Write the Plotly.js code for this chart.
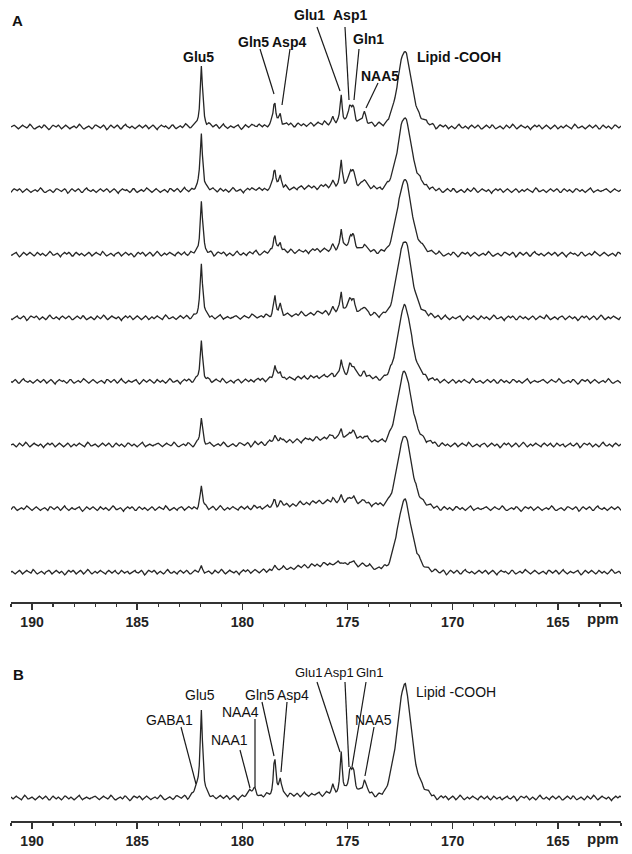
<!DOCTYPE html>
<html><head><meta charset="utf-8">
<script src="https://cdn.plot.ly/plotly-3.0.1.min.js"></script>
<style>html,body{margin:0;padding:0;background:#fff}#chart{width:632px;height:854px}</style>
</head><body><div id="chart"></div>
<script>
// ---------- DATA ----------
const ppmStart = 191, ppmEnd = 162, ppmStep = 0.05;
const peakNames = ['GABA1','Glu5','NAA1','NAA4','Gln5','Asp4','minor175.7','Glu1','Asp1','Gln1','NAA5','Lipid shoulder','Lipid -COOH','Lipid tail','Macromolecule hump'];
const peakPpm   = [182.2, 181.95, 179.65, 179.4, 178.47, 178.2, 175.7, 175.3, 174.88, 174.72, 174.2, 172.85, 172.3, 171.7, 175.6];
const peakWidth = [0.08, 0.07, 0.08, 0.08, 0.07, 0.07, 0.06, 0.06, 0.09, 0.09, 0.1, 0.25, 0.3, 0.4, 1.8];
const peakShape = ['L','L','L','L','L','L','L','L','L','L','L','G','G','G','G'];

// peak intensities per spectrum, same order as peakNames
const spectrumA1 = [0, 61, 0, 2, 25, 11, 6, 27, 16, 14, 11, 6, 71, 9, 3];
const spectrumA2 = [0, 58, 0, 2, 22, 12, 4, 24, 14, 12, 8, 6, 68, 9, 4];
const spectrumA3 = [0, 53, 0, 2, 19, 10, 4, 21, 13, 11, 7, 6, 70, 9, 4];
const spectrumA4 = [0, 55, 0, 2, 20, 10, 4, 21, 13, 11, 7, 6, 72, 9, 5];
const spectrumA5 = [0, 40, 0, 2, 15, 8, 3, 16, 11, 9, 6, 6, 71, 9, 5];
const spectrumA6 = [0, 26, 0, 1, 8, 5, 3, 9, 6, 5, 4, 6, 68, 9, 7];
const spectrumA7 = [0, 21, 0, 1, 6, 4, 2, 6, 4, 3, 3, 6, 68, 9, 7];
const spectrumA8 = [0, 5, 0, 0, 3, 2, 1, 3, 2, 2, 2, 6, 67, 9, 8];
const spectrumB  = [9, 89, 9, 9, 38, 18, 7, 40, 22, 18, 15, 16, 106, 14, 4];

const baselineNoise = [
0,1,2,2,1,0,-1,-2,-1,0,1,2,1,0,-1,-1,0,1,3,2,
0,-1,-2,-2,-1,0,1,1,0,-1,0,2,2,1,-1,-2,-3,-2,0,1,
2,1,0,0,1,2,1,-1,-2,-1,0,1,2,1,0,-1,-2,-1,0,1,
1,0,-1,0,2,3,2,0,-1,-2,-2,-1,0,1,1,0,-1,-2,-1,1,
2,2,1,0,-1,-1,0,1,2,1,-1,-3,-2,0,1,2,1,0,-1,0,
1,2,1,-1,-2,-2,0,1,2,3,1,0,-1,-1,0,1,0,-1,-2,-1,
0,1,2,1,0,-1,0,1,2,1,-1,-2,-1,0,2,2,1,0,-2,-3,
-1,0,1,2,1,0,0,1,0,-1,-2,-1,1,2,2,0,-1,-2,-1,0,
1,1,0,-1,0,2,3,2,1,-1,-2,-2,-1,0,1,2,1,0,-1,-2,
-1,0,1,1,0,-1,-2,0,2,2,1,0,-1,0,1,2,1,-1,-2,-1,
0,2,3,1,0,-1,-2,-1,0,1,0,-1,-1,0,1,2,2,0,-1,-3,
-2,-1,1,2,1,0,-1,0,1,2,1,0,-2,-2,-1,1,2,1,0,-1,
0,1,0,-1,-2,-1,0,2,3,2,0,-1,-1,0,1,1,0,-2,-3,-1,
0,1,2,1,0,1,2,1,-1,-2,-2,0,1,2,1,0,-1,0,1,0,
-1,-2,-1,0,2,2,1,-1,-2,-1,0,1,2,1,0,-1,-1,1,3,2,
0,-1,-2,-1,0,1,1,0,-1,-2,0,1,2,2,1,-1,-2,-1,0,1,
2,1,0,-1,0,1,0,-1,-3,-2,0,1,2,1,0,1,2,1,-1,-2,
-1,0,1,2,1,-1,-2,-1,0,2,3,2,0,-1,-2,-1,0,1,0,-1,
0,1,2,1,0,-1,-2,-2,0,1,2,1,0,-1,0,1,2,0,-1,-2,
-1,1,2,1,0,-1,0,1,1,-1,-2,-1,0,1,2,2,0,-1,-1,0,
1,2,1,-1,-3,-2,0,1,2,1,0,0,1,2,1,-1,-2,-1,0,1,
0,-1,-2,-1,1,2,3,1,0,-1,-1,0,1,0,-1,-2,0,1,2,1,
0,-1,0,1,2,1,-1,-2,-2,-1,0,1,2,1,0,-1,0,2,2,0,
-1,-2,-1,0,1,1,0,-1,-2,-1,1,2,1,0,-1,0,1,3,2,0,
-1,-2,-1,0,1,2,1,0,-1,-1,0,1,0,-2,-3,-1,0,1,2,1,
0,1,2,1,-1,-2,-1,0,1,2,1,0,-1,-2,-1,0,2,2,1,-1,
-2,-1,0,1,0,-1,0,1,2,1,0,-1,-2,-2,0,1,3,2,0,-1,
-1,0,1,1,0,-1,-2,-1,0,1,2,1,0,-1,0,1,2,1,-1,-2,
-2,0,1,2,1,0,-1,0,1,0,-1,-2,-1,1,2,2,1,0,-1,0,
1,0,-1,-2,-1,0,1,2,3,1,-1,-2,-1,0,1,1,0,-1,-1,0];

const tickValues = [190, 185, 180, 175, 170, 165];
const tickLabels = ['190', '185', '180', '175', '170', '165'];
const labelsA = ['Glu5','Gln5','Asp4','Glu1','Asp1','Gln1','NAA5','Lipid -COOH'];
const labelsB = ['GABA1','Glu5','NAA4','NAA1','Gln5','Asp4','Glu1','Asp1','Gln1','NAA5','Lipid -COOH'];

// ---------- LAYOUT CONSTANTS (pixels) ----------
const W = 632, H = 854, axL = 11, axR = 621, axisA = 602, axisB = 821, topB = 640;
const stackTop = 475, stackStep = 63.6, baseB = 23, noiseScale = 0.9;
const noiseStartA = [0, 37, 211, 389, 97, 463, 151, 277], noiseStartB = 523;
const FONT = 'Liberation Sans, Arial, Helvetica, sans-serif';
const INK = '#262626';

function buildSpectrum(heights, start) {
  const xs = [], ys = [];
  const n = Math.round((ppmStart - ppmEnd) / ppmStep);
  for (let i = 0; i <= n; i++) {
    const x = ppmStart - i * ppmStep;
    let y = baselineNoise[(start + i) % baselineNoise.length] * noiseScale;
    for (let p = 0; p < peakPpm.length; p++) {
      const h = heights[p];
      if (!h) continue;
      const d = (x - peakPpm[p]) / peakWidth[p];
      y += peakShape[p] === 'G' ? h * Math.exp(-0.5 * d * d) : h / (1 + d * d);
    }
    xs.push(+x.toFixed(3)); ys.push(y);
  }
  return {xs, ys};
}

const spectraA = [spectrumA1, spectrumA2, spectrumA3, spectrumA4, spectrumA5, spectrumA6, spectrumA7, spectrumA8];
const traces = [];
spectraA.forEach((s, k) => {
  const sp = buildSpectrum(s, noiseStartA[k]);
  const off = stackTop - k * stackStep;
  traces.push({x: sp.xs, y: sp.ys.map(v => v + off), xaxis: 'x', yaxis: 'y', type: 'scatter', mode: 'lines',
    line: {color: INK, width: 1.3}, hoverinfo: 'skip', showlegend: false});
});
const spB = buildSpectrum(spectrumB, noiseStartB);
traces.push({x: spB.xs, y: spB.ys.map(v => v + baseB), xaxis: 'x2', yaxis: 'y2', type: 'scatter', mode: 'lines',
  line: {color: INK, width: 1.3}, hoverinfo: 'skip', showlegend: false});

function xAxis(anchor) {
  return {domain: [axL / W, axR / W], range: [ppmStart, ppmEnd], anchor: anchor,
    showline: true, linecolor: '#333', linewidth: 2, mirror: false,
    ticks: 'outside', ticklen: 6, tickwidth: 1.5, tickcolor: '#333',
    tickmode: 'array', tickvals: tickValues, ticktext: tickLabels.map(t => '<b>' + t + '</b>'),
    tickfont: {family: FONT, size: 14, color: '#222'},
    minor: {tickmode: 'linear', tick0: 0, dtick: 1, ticks: 'outside', ticklen: 3, tickwidth: 1.2, tickcolor: '#333', showgrid: false},
    showgrid: false, zeroline: false, fixedrange: true};
}

const px = x => x / W, py = y => 1 - y / H;
const ann = [];
function txt(t, x, y, opts) {
  ann.push(Object.assign({text: t, x: px(x), y: py(y), xref: 'paper', yref: 'paper', showarrow: false,
    xanchor: 'center', yanchor: 'middle', font: {family: FONT, size: 14, color: '#111'}}, opts || {}));
}
const shapes = [];
function seg(x0, y0, x1, y1) {
  shapes.push({type: 'line', xref: 'paper', yref: 'paper', x0: px(x0), y0: py(y0), x1: px(x1), y1: py(y1),
    line: {color: '#1a1a1a', width: 1.2}});
}

// Panel A labels (bold)
txt('<b>A</b>', 17, 20, {font: {family: FONT, size: 15, color: '#111'}});
const posA = [[198,57],[254,42],[289,42],[309,15],[350,15],[368,39],[380,76],[415,57]];
labelsA.forEach((t, i) => txt('<b>' + t + '</b>', posA[i][0], posA[i][1], i === 7 ? {xanchor: 'left'} : {}));
seg(260,49,274,94); seg(290,49,282,105); seg(317,27,340,91); seg(345,27,349,100); seg(359,49,354,100); seg(378,83,366,108);

// Panel B labels (regular)
txt('<b>B</b>', 18, 674, {font: {family: FONT, size: 15, color: '#111'}});
const posB = [[169,720],[200,695],[240,712],[229,740],[259.5,695],[292.5,695],[308,672],[338.5,672],[369,672],[373,720],[414,692]];
const smallB = {6: 1, 7: 1, 8: 1};
labelsB.forEach((t, i) => {
  const o = {};
  if (i === 10) o.xanchor = 'left';
  if (smallB[i]) o.font = {family: FONT, size: 13, color: '#111'};
  txt(t, posB[i][0], posB[i][1], o);
});
seg(181,727,196,784); seg(240,750,250,788); seg(255,719,255,787); seg(262,702,274,756); seg(287,702,281,772);
seg(317,682,340,752); seg(345,682,349,767); seg(366,682,352,767); seg(374,727,365,776);

// unit labels
txt('<b>ppm</b>', 603, 618, {font: {family: FONT, size: 15, color: '#222'}});
txt('<b>ppm</b>', 603, 838, {font: {family: FONT, size: 15, color: '#222'}});

const layout = {
  width: W, height: H, autosize: false,
  margin: {l: 0, r: 0, t: 0, b: 0, pad: 0},
  paper_bgcolor: '#fff', plot_bgcolor: 'rgba(0,0,0,0)',
  showlegend: false,
  xaxis: xAxis('y'),
  yaxis: {domain: [1 - axisA / H, 1], range: [0, axisA], visible: false, fixedrange: true},
  xaxis2: xAxis('y2'),
  yaxis2: {domain: [1 - axisB / H, 1 - topB / H], range: [0, axisB - topB], visible: false, fixedrange: true},
  annotations: ann, shapes: shapes
};

Plotly.newPlot('chart', traces, layout, {staticPlot: true, displayModeBar: false});
</script>
</body></html>
